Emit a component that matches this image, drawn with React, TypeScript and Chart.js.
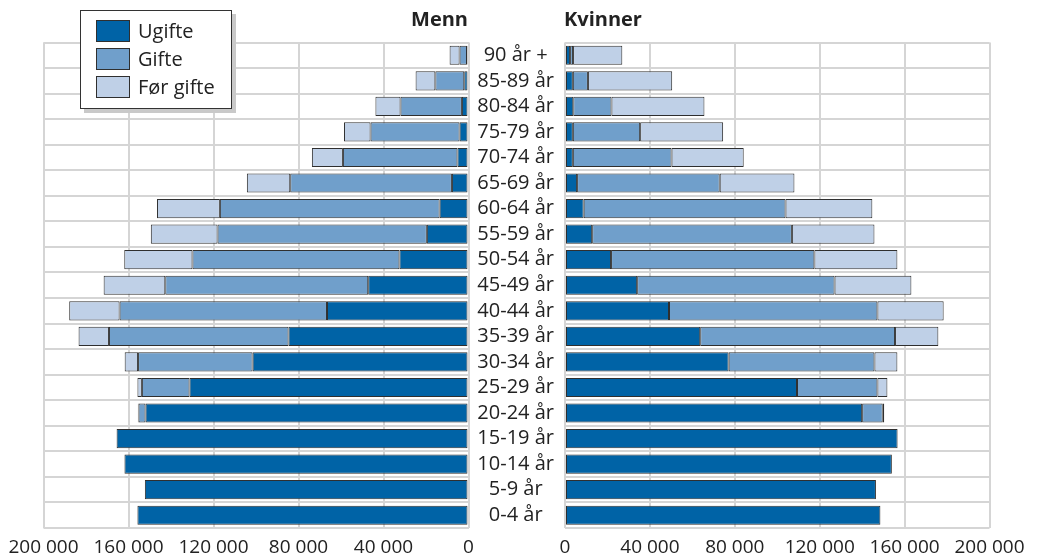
import React, { useEffect, useRef } from 'react';
import { Chart, registerables } from 'chart.js';

Chart.register(...registerables);

const ageGroups = [
  '90 år +', '85-89 år', '80-84 år', '75-79 år', '70-74 år', '65-69 år', '60-64 år',
  '55-59 år', '50-54 år', '45-49 år', '40-44 år', '35-39 år', '30-34 år', '25-29 år',
  '20-24 år', '15-19 år', '10-14 år', '5-9 år', '0-4 år',
];

const seriesNames = ['Ugifte', 'Gifte', 'Før gifte'];

const menUgifte = [700, 2000, 3100, 4200, 5200, 7800, 13600, 19600, 32500, 47200, 66600, 84700, 101600, 131300, 152000, 165600, 161900, 152300, 155800];
const menGifte = [3500, 13600, 28900, 41900, 53900, 76100, 103400, 98500, 97400, 95500, 97600, 84500, 53900, 22400, 3300, 0, 0, 0, 0];
const menForGifte = [4700, 9300, 11800, 12500, 14600, 20400, 29600, 31400, 32100, 29000, 23700, 14300, 6300, 2100, 300, 0, 0, 0, 0];

const womenUgifte = [2400, 3700, 3900, 3700, 3700, 5700, 8800, 12800, 21700, 34000, 49000, 63700, 77100, 109300, 140000, 156700, 154000, 146500, 148600];
const womenGifte = [1400, 7100, 18000, 31700, 46500, 67200, 95100, 94100, 95800, 93000, 98200, 91800, 68700, 37900, 9700, 0, 0, 0, 0];
const womenForGifte = [23200, 39700, 43800, 39100, 34000, 35200, 40900, 38900, 39100, 36200, 31200, 20400, 10800, 4700, 700, 0, 0, 0, 0];

const xTicks = [0, 40000, 80000, 120000, 160000, 200000];

const COLORS = ['#0063a6', '#709fcb', '#bfd0e7'];
const BORDER = '#2f2f2f';
const GRID = '#d5d5d5';
const TEXT = '#222222';
const FONT = "'Open Sans', 'Noto Sans', sans-serif";

const W = 1037;
const H = 556;

const fmt = (v: number) => (v === 0 ? '0' : `${Math.round(v / 1000)} 000`);

function makeDatasets(a: number[], b: number[], c: number[]) {
  return [a, b, c].map((d, i) => ({
    label: seriesNames[i],
    data: d,
    backgroundColor: COLORS[i],
    borderColor: BORDER,
    borderWidth: 1,
    borderSkipped: false as const,
    barPercentage: 0.75,
    categoryPercentage: 1,
  }));
}

function xScale(reverse: boolean) {
  return {
    type: 'linear' as const,
    stacked: true,
    reverse,
    min: 0,
    max: 200000,
    afterBuildTicks: (s: any) => {
      s.ticks = xTicks.map((v) => ({ value: v }));
    },
    ticks: {
      callback: (v: any) => fmt(Number(v)),
      padding: 8,
      color: TEXT,
      font: { family: FONT, size: 19 },
      maxRotation: 0,
      autoSkip: false,
    },
    grid: { color: GRID, lineWidth: 2, drawTicks: false },
    border: { display: false },
    afterFit: (s: any) => {
      s.height = 28;
    },
  };
}

export default function App() {
  const leftRef = useRef<HTMLCanvasElement | null>(null);
  const rightRef = useRef<HTMLCanvasElement | null>(null);

  useEffect(() => {
    const left = new Chart(leftRef.current as HTMLCanvasElement, {
      type: 'bar',
      data: { labels: ageGroups, datasets: makeDatasets(menUgifte, menGifte, menForGifte) },
      options: {
        indexAxis: 'y',
        animation: false,
        responsive: false,
        maintainAspectRatio: false,
        layout: { padding: { left: 43.5, right: W - 468.5, top: 42.5, bottom: 0 } },
        plugins: { legend: { display: false }, tooltip: { enabled: false } },
        scales: {
          x: xScale(true) as any,
          y: {
            stacked: true,
            position: 'right',
            ticks: { display: false },
            grid: { color: GRID, lineWidth: 2, drawTicks: false, offset: true },
            border: { display: false },
            afterFit: (s: any) => {
              s.width = 0;
            },
          },
        },
      },
    });

    const right = new Chart(rightRef.current as HTMLCanvasElement, {
      type: 'bar',
      data: { labels: ageGroups, datasets: makeDatasets(womenUgifte, womenGifte, womenForGifte) },
      options: {
        indexAxis: 'y',
        animation: false,
        responsive: false,
        maintainAspectRatio: false,
        layout: { padding: { left: 469, right: W - 989.5, top: 42.5, bottom: 0 } },
        plugins: { legend: { display: false }, tooltip: { enabled: false } },
        scales: {
          x: xScale(false) as any,
          y: {
            stacked: true,
            position: 'left',
            ticks: {
              display: true,
              crossAlign: 'center',
              padding: 11,
              color: TEXT,
              font: { family: FONT, size: 20 },
              autoSkip: false,
            },
            grid: { color: GRID, lineWidth: 2, drawTicks: false, offset: true },
            border: { display: false },
            afterFit: (s: any) => {
              s.width = 96;
            },
          },
        },
      },
    });

    return () => {
      left.destroy();
      right.destroy();
    };
  }, []);

  const canvasStyle: React.CSSProperties = {
    position: 'absolute',
    left: 0,
    top: 0,
    width: W,
    height: H,
  };

  return (
    <div style={{ position: 'absolute', left: 0, top: 0, width: W, height: H, background: '#fff', fontFamily: FONT, overflow: 'hidden' }}>
      <canvas ref={leftRef} width={W} height={H} style={canvasStyle} />
      <canvas ref={rightRef} width={W} height={H} style={canvasStyle} />
      <div
        style={{
          position: 'absolute',
          left: 318,
          top: 9,
          width: 150,
          textAlign: 'right',
          fontWeight: 700,
          fontSize: 20,
          lineHeight: '20px',
          color: TEXT,
        }}
      >
        Menn
      </div>
      <div
        style={{
          position: 'absolute',
          left: 564,
          top: 9,
          fontWeight: 700,
          fontSize: 20,
          lineHeight: '20px',
          color: TEXT,
        }}
      >
        Kvinner
      </div>
      <div
        style={{
          position: 'absolute',
          left: 80,
          top: 10,
          width: 152,
          height: 99,
          boxSizing: 'border-box',
          border: '1px solid #333',
          background: '#fff',
          boxShadow: '4px 4px 0 #c9c9c9',
          zIndex: 2,
        }}
      >
        {seriesNames.map((name, i) => (
          <div key={name} style={{ position: 'absolute', left: 15, top: 9 + i * 28, height: 22, display: 'flex', alignItems: 'center' }}>
            <div style={{ width: 34, height: 22, boxSizing: 'border-box', border: `1px solid ${BORDER}`, background: COLORS[i] }} />
            <div style={{ marginLeft: 8, fontSize: 20, lineHeight: '22px', color: TEXT, whiteSpace: 'nowrap' }}>{name}</div>
          </div>
        ))}
      </div>
    </div>
  );
}
